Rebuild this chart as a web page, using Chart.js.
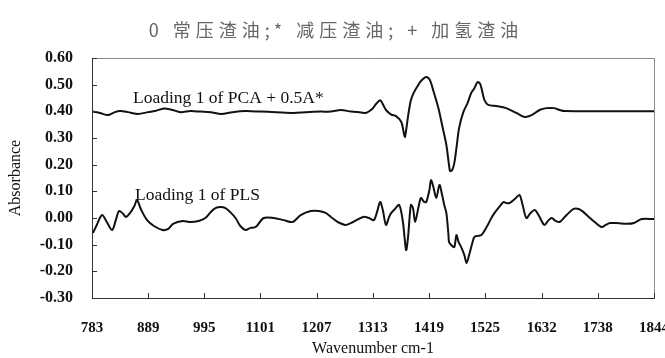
<!DOCTYPE html>
<html lang="zh">
<head>
    <meta charset="UTF-8">
    <title>Loading spectra</title>
    <script src="https://cdn.jsdelivr.net/npm/chart.js"></script>
    <style>
        body {
            margin: 0;
            padding: 0;
            background-color: #ffffff;
        }
        .chart-box {
            width: 665px;
            height: 358px;
            position: relative;
        }
    </style>
</head>
<body>
    <div class="chart-box">
        <canvas id="loadingChart"></canvas>
    </div>

    <script>
        // tick labels
        const xTickLabels = ['783', '889', '995', '1101', '1207', '1313', '1419', '1525', '1632', '1738', '1844'];
        const yTickLabels = ['-0.30', '-0.20', '-0.10', '0.00', '0.10', '0.20', '0.30', '0.40', '0.50', '0.60'];

        // Loading 1 of PCA + 0.5A*
        const pcaWave = [785, 798, 813, 825, 836, 851, 870, 889, 902, 919, 935, 950, 969, 988, 1007, 1027, 1048, 1073, 1101, 1130,
            1164, 1187, 1215, 1234, 1253, 1272, 1291, 1300, 1312, 1319, 1327, 1332, 1338, 1348, 1357, 1367, 1372, 1374, 1380, 1385,
            1391, 1399, 1404, 1414, 1421, 1427, 1437, 1446, 1452, 1457, 1459, 1463, 1467, 1471, 1476, 1484, 1492, 1499, 1505, 1511,
            1516, 1520, 1524, 1531, 1546, 1565, 1584, 1600, 1613, 1628, 1641, 1655, 1666, 1675, 1745, 1844];
        const pcaAbs = [0.399, 0.394, 0.386, 0.396, 0.401, 0.397, 0.390, 0.397, 0.401, 0.411, 0.405, 0.397, 0.401, 0.399, 0.397, 0.390, 0.397, 0.401, 0.399, 0.397,
            0.394, 0.397, 0.399, 0.399, 0.405, 0.399, 0.396, 0.394, 0.409, 0.427, 0.442, 0.427, 0.405, 0.388, 0.382, 0.360, 0.315, 0.304, 0.386, 0.442,
            0.472, 0.499, 0.514, 0.529, 0.517, 0.480, 0.412, 0.330, 0.274, 0.199, 0.176, 0.180, 0.206, 0.262, 0.337, 0.397, 0.431, 0.469, 0.487, 0.510,
            0.502, 0.472, 0.442, 0.424, 0.420, 0.412, 0.394, 0.379, 0.386, 0.405, 0.412, 0.412, 0.405, 0.401, 0.400, 0.400];

        // Loading 1 of PLS
        const plsWave = [785, 792, 802, 811, 821, 828, 834, 842, 847, 855, 863, 868, 876, 887, 900, 916, 927, 936, 954, 969,
            984, 997, 1007, 1016, 1026, 1035, 1044, 1054, 1063, 1073, 1082, 1092, 1107, 1126, 1145, 1162, 1177, 1196, 1211, 1224,
            1234, 1247, 1262, 1276, 1295, 1306, 1315, 1321, 1327, 1332, 1338, 1344, 1348, 1355, 1363, 1370, 1376, 1380, 1385, 1389,
            1393, 1399, 1404, 1410, 1414, 1420, 1423, 1427, 1433, 1439, 1444, 1448, 1452, 1456, 1457, 1461, 1467, 1471, 1475, 1480,
            1486, 1490, 1495, 1501, 1505, 1512, 1518, 1528, 1537, 1543, 1550, 1560, 1565, 1571, 1581, 1590, 1596, 1603, 1611, 1619,
            1626, 1637, 1645, 1651, 1658, 1666, 1679, 1692, 1702, 1711, 1721, 1732, 1745, 1753, 1761, 1774, 1793, 1806, 1821, 1844];
        const plsAbs = [-0.056, -0.026, 0.011, -0.015, -0.045, -0.008, 0.026, 0.015, 0.004, 0.019,
            0.045, 0.067, 0.030, -0.008, -0.030, -0.045, -0.041, -0.022, -0.011, -0.015,
            -0.011, 0.000, 0.022, 0.037, 0.041, 0.037, 0.022, 0.000, -0.030, -0.045,
            -0.037, -0.034, 0.000, 0.000, -0.008, -0.015, 0.011, 0.026, 0.026, 0.019,
            0.004, -0.015, -0.026, -0.015, 0.004, 0.000, -0.008, 0.022, 0.060, 0.030,
            -0.026, 0.004, 0.019, 0.034, 0.049, -0.015, -0.120, -0.064, 0.049, 0.037,
            -0.015, 0.037, 0.075, 0.060, 0.060, 0.105, 0.142, 0.120, 0.075, 0.124,
            0.086, 0.049, 0.019, -0.064, -0.090, -0.101, -0.109, -0.064, -0.090, -0.109,
            -0.139, -0.169, -0.139, -0.094, -0.071, -0.067, -0.064, -0.034, 0.000, 0.019,
            0.037, 0.060, 0.056, 0.056, 0.071, 0.086, 0.049, 0.000, 0.019, 0.030,
            0.011, -0.026, -0.008, 0.000, -0.011, -0.015, 0.011, 0.034, 0.034, 0.022,
            0.004, -0.015, -0.034, -0.026, -0.019, -0.019, -0.022, -0.019, -0.004, -0.004];

        const chartTitle = '0 常压渣油;* 减压渣油; + 加氢渣油';
        const serif = "'Liberation Serif', 'Times New Roman', serif";

        // frame, inward ticks and the text labels
        const decorPlugin = {
            id: 'decor',
            afterDraw(chart) {
                const ctx = chart.ctx;
                const area = chart.chartArea;
                const xs = chart.scales.x;
                const ys = chart.scales.y;
                ctx.save();

                ctx.strokeStyle = '#8a8a8a';
                ctx.lineWidth = 1;
                ctx.beginPath();
                ctx.moveTo(area.left, area.top + 0.5);
                ctx.lineTo(area.right + 0.5, area.top + 0.5);
                ctx.lineTo(area.right + 0.5, area.bottom);
                ctx.stroke();

                ctx.strokeStyle = '#333';
                ctx.beginPath();
                xs.ticks.forEach(t => {
                    const px = Math.round(xs.getPixelForValue(t.value)) + 0.5;
                    ctx.moveTo(px, area.bottom);
                    ctx.lineTo(px, area.bottom - 5);
                });
                ys.ticks.forEach(t => {
                    const py = Math.round(ys.getPixelForValue(t.value)) + 0.5;
                    ctx.moveTo(area.left, py);
                    ctx.lineTo(area.left + 5, py);
                });
                ctx.stroke();

                ctx.fillStyle = '#111';
                ctx.font = '17.5px ' + serif;
                ctx.textBaseline = 'middle';
                ctx.textAlign = 'left';
                ctx.fillText('Loading 1 of PCA + 0.5A*', 133, 98);
                ctx.fillText('Loading 1 of PLS', 135, 195);

                ctx.fillStyle = '#666';
                ctx.font = "18px 'Noto Sans CJK SC'";
                ctx.letterSpacing = '5px';
                ctx.textAlign = 'center';
                ctx.fillText(chartTitle, 336, 30);
                ctx.restore();
            }
        };

        const ctx = document.getElementById('loadingChart').getContext('2d');
        new Chart(ctx, {
            type: 'line',
            data: {
                datasets: [
                    {
                        label: 'PCA',
                        data: pcaWave.map((w, i) => ({ x: w, y: pcaAbs[i] })),
                        borderColor: '#111',
                        borderWidth: 2,
                        pointRadius: 0,
                        tension: 0.3
                    },
                    {
                        label: 'PLS',
                        data: plsWave.map((w, i) => ({ x: w, y: plsAbs[i] })),
                        borderColor: '#111',
                        borderWidth: 2,
                        pointRadius: 0,
                        tension: 0.3
                    }
                ]
            },
            options: {
                responsive: true,
                maintainAspectRatio: false,
                animation: false,
                layout: {
                    padding: { top: 58, right: 11, bottom: 0, left: 0 }
                },
                plugins: {
                    legend: { display: false },
                    tooltip: { enabled: false }
                },
                scales: {
                    x: {
                        type: 'linear',
                        min: 783,
                        max: 1844,
                        afterBuildTicks: scale => {
                            scale.ticks = xTickLabels.map(l => ({ value: Number(l) }));
                        },
                        afterFit: scale => {
                            scale.height = 60;
                            scale.paddingLeft = 0;
                            scale.paddingRight = 0;
                        },
                        grid: { display: false, drawTicks: false },
                        border: { color: '#333', width: 1 },
                        ticks: {
                            autoSkip: false,
                            maxRotation: 0,
                            padding: 21,
                            color: '#111',
                            font: { family: serif, size: 15, weight: 'bold' },
                            callback: (v, i) => xTickLabels[i]
                        },
                        title: {
                            display: true,
                            text: 'Wavenumber cm-1',
                            color: '#111',
                            font: { family: serif, size: 16 },
                            padding: { top: 0, bottom: 0 }
                        }
                    },
                    y: {
                        min: -0.3,
                        max: 0.6,
                        afterBuildTicks: scale => {
                            scale.ticks = yTickLabels.map(l => ({ value: Number(l) }));
                        },
                        afterFit: scale => {
                            scale.width = 92;
                        },
                        grid: { display: false, drawTicks: false },
                        border: { color: '#333', width: 1 },
                        ticks: {
                            padding: 19,
                            color: '#111',
                            font: { family: serif, size: 16, weight: 'bold' },
                            callback: (v, i) => yTickLabels[i]
                        },
                        title: {
                            display: true,
                            text: 'Absorbance',
                            color: '#111',
                            font: { family: serif, size: 16 },
                            padding: { top: 6, bottom: 0 }
                        }
                    }
                }
            },
            plugins: [decorPlugin]
        });
    </script>
</body>
</html>
